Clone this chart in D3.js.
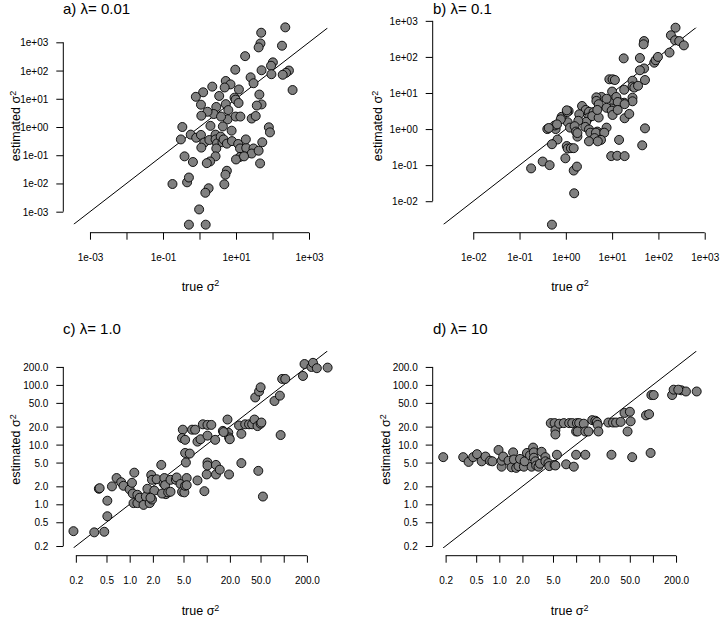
<!DOCTYPE html>
<html>
<head>
<meta charset="utf-8">
<script src="https://cdn.jsdelivr.net/npm/d3@7"></script>
<style>
body { margin: 0; background: #fff; }
svg { display: block; }
text { font-family: "Liberation Sans", Arial, Helvetica, sans-serif; fill: #000; }
</style>
</head>
<body>
<svg width="720" height="618"></svg>
<script>

// a) lambda = 0.01
var aTrue = [2.35,1.69,1.67,1.62,2.26,1.25,2.01,1.96,0.98,1.70,
    2.45,2.37,2.28,1.97,1.40,1.48,0.72,0.85,0.69,0.35,
    0.10,1.08,2.55,1.64,0.54,-0.10,0.96,0.99,1.70,1.57,
    1.07,0.04,0.72,0.46,0.79,0.39,0.77,0.22,0.05,0.59,
    0.99,1.12,1.43,1.54,0.30,0.64,0.88,-0.47,1.90,1.93,
    -0.51,-0.24,-0.09,0.04,0.13,0.05,0.27,0.44,0.44,0.48,
    0.58,0.63,0.66,0.75,0.89,0.46,0.44,0.29,0.20,-0.41,
    -0.18,1.06,1.11,1.28,1.27,1.48,1.43,1.11,1.00,1.22,
    1.62,1.72,1.66,0.75,0.71,0.68,-0.74,-0.34,-0.29,0.25,
    0.16,-0.01,-0.29,0.17];
var aEst = [3.53,3.34,2.96,2.82,2.88,2.51,2.29,2.17,2.03,2.01,
    2.00,1.92,1.85,1.87,1.76,1.55,1.63,1.51,1.40,1.43,
    1.23,1.33,1.31,1.15,1.10,1.07,1.04,0.97,0.80,0.76,
    0.85,0.79,0.81,0.71,0.60,0.46,0.27,0.54,0.40,0.37,
    0.37,0.37,0.30,0.39,0.04,0.02,-0.13,0.00,-0.01,-0.19,
    -0.44,-0.27,-0.38,-0.28,-0.55,-0.73,-0.46,-0.27,-0.44,-0.58,
    -0.34,-0.54,-0.44,-0.59,-0.50,-0.76,-1.04,-1.22,-1.28,-1.04,
    -1.24,-0.60,-0.76,-0.74,-0.44,-0.76,-0.94,-1.06,-1.15,-1.04,
    -0.84,-0.54,-1.29,-1.55,-1.69,-2.03,-2.02,-1.96,-1.79,-2.17,
    -2.33,-2.92,-3.46,-3.46];

// b) lambda = 0.1
var bTrue = [2.37,2.27,2.36,2.45,2.55,2.24,1.69,1.68,1.60,1.25,
    1.91,1.94,1.99,1.69,1.60,1.71,1.44,0.94,1.01,1.06,
    1.26,1.44,1.48,1.56,1.00,1.44,1.44,1.26,1.17,1.04,
    1.09,0.77,0.88,0.66,0.66,0.71,1.12,0.99,0.88,0.99,
    1.01,1.27,1.12,0.88,0.35,0.43,0.50,0.60,0.50,0.44,
    0.42,0.57,0.71,0.68,0.50,0.53,0.68,0.78,0.72,0.65,
    0.83,0.62,0.76,0.50,0.69,0.29,0.27,0.06,0.04,0.09,
    0.19,0.22,0.25,-0.09,0.03,-0.11,-0.22,-0.40,-0.24,-0.18,
    -0.30,0.02,0.04,0.11,0.17,0.25,-0.01,0.17,0.24,0.18,
    -0.50,-0.35,-0.75,-0.30,-0.19,0.98,1.11,1.27,1.15,1.65,
    1.71,1.37,1.27,-0.37,0.02];
var bEst = [2.81,2.60,2.46,2.44,2.32,2.12,2.44,2.35,1.97,1.96,
    1.84,1.91,2.00,1.68,1.63,1.36,1.34,1.38,1.38,1.36,
    1.09,1.18,1.15,1.20,1.04,0.87,0.77,0.73,0.74,0.76,
    0.89,0.89,0.84,0.88,0.78,0.69,0.75,0.57,0.59,0.51,
    0.39,0.30,0.53,0.04,0.64,0.53,0.48,0.47,0.32,0.20,
    0.06,0.36,0.32,0.53,-0.01,-0.10,-0.07,-0.12,-0.21,-0.10,
    -0.10,-0.25,-0.30,-0.34,-0.34,0.41,0.23,0.50,0.19,0.04,
    0.08,-0.07,-0.21,0.34,0.47,0.27,0.00,0.00,0.10,-0.29,
    -0.42,-0.47,-0.54,-0.53,-0.53,-0.11,-0.81,-1.15,-1.04,-1.78,
    -0.90,-1.00,-1.09,-2.65,0.13,-0.75,-0.74,-0.75,-0.30,-0.45,
    0.02,0.42,0.69,0.03,0.52];

// c) lambda = 1.0
var cTrue = [-0.73,-0.46,-0.33,-0.29,-0.29,-0.40,-0.23,-0.17,-0.11,-0.08,
    0.00,0.03,0.06,0.04,0.10,0.05,0.10,0.13,0.18,0.21,
    0.23,0.26,0.28,0.29,0.32,0.29,0.41,0.35,0.44,0.45,
    0.46,0.47,0.42,0.50,0.53,0.53,0.60,0.61,0.66,0.68,
    0.71,0.72,0.74,0.74,0.69,0.68,0.72,0.72,0.73,0.78,
    0.81,0.85,0.88,0.92,0.95,0.88,0.97,1.00,1.01,1.01,
    1.01,1.01,1.06,1.11,1.12,1.12,1.17,1.21,1.27,1.28,
    1.29,1.30,1.29,1.42,1.45,1.45,1.50,1.55,1.59,1.62,
    1.63,1.66,1.67,1.68,1.70,1.70,1.71,1.73,1.88,1.95,
    1.96,1.98,2.02,2.25,2.27,2.36,2.38,2.43,2.57,-0.39,
    0.27,1.22];
var cEst = [-0.45,-0.47,-0.46,-0.20,0.06,0.26,0.30,0.44,0.37,0.31,
    0.25,0.36,0.53,0.18,0.16,0.02,0.02,0.11,-0.01,0.13,
    0.26,0.02,0.49,0.08,0.23,0.41,0.66,0.42,0.35,0.44,
    0.32,0.17,0.18,0.20,0.21,0.41,0.41,0.45,0.34,0.21,
    0.20,0.31,0.44,0.32,1.25,1.11,1.08,0.86,0.70,0.85,
    1.25,1.25,1.05,1.09,1.34,0.40,0.22,0.50,0.70,0.65,
    1.33,1.15,1.33,1.08,0.66,0.50,0.58,1.23,1.42,1.20,
    1.12,1.09,0.50,1.32,1.18,0.69,1.34,1.34,1.34,1.42,
    1.79,1.31,0.56,1.89,1.96,1.35,1.37,0.13,1.73,1.82,
    1.16,2.10,2.10,2.15,2.35,2.30,2.37,2.28,2.29,0.27,
    0.11,1.21];

// d) lambda = 10
var dTrue = [-0.73,-0.47,-0.40,-0.34,-0.29,-0.23,-0.18,-0.12,-0.09,-0.01,
    0.03,0.03,0.05,0.12,0.16,0.18,0.19,0.22,0.25,0.27,
    0.32,0.33,0.36,0.40,0.42,0.44,0.45,0.45,0.47,0.48,
    0.51,0.55,0.53,0.60,0.60,0.64,0.65,0.72,0.75,0.73,
    0.67,0.72,0.73,0.73,0.78,0.84,0.91,0.95,1.01,1.04,
    1.10,1.00,1.02,1.12,1.16,0.87,0.97,1.00,1.12,1.21,
    1.25,1.27,1.28,1.29,1.42,1.46,1.48,1.52,1.58,1.63,
    1.70,1.71,1.67,1.73,1.91,1.95,1.97,1.98,2.01,2.25,
    2.27,2.37,2.43,2.57,2.33];
var dEst = [0.79,0.79,0.71,0.79,0.84,0.72,0.80,0.73,0.72,0.91,
    0.63,0.73,0.80,0.73,0.62,0.87,0.75,0.61,0.64,0.76,
    0.63,0.72,0.86,0.82,0.63,0.95,0.87,0.78,0.72,0.65,
    0.63,0.88,0.68,0.79,0.72,0.69,0.64,0.66,0.83,0.65,
    1.36,1.36,1.24,1.17,1.35,1.36,1.36,1.36,1.36,1.36,
    1.35,1.22,1.22,1.22,1.22,0.67,0.63,0.83,0.83,1.41,
    1.40,1.38,1.33,1.22,1.37,0.83,1.37,1.37,1.38,1.53,
    1.55,1.39,1.22,0.79,1.49,1.51,0.86,1.83,1.83,1.83,
    1.92,1.91,1.89,1.89,1.92];

// tick values and labels
var ticksA = [1e-3, 1e-2, 1e-1, 1, 10, 100, 1000];
var labelsAx = ["1e-03", "", "1e-01", "", "1e+01", "", "1e+03"];
var labelsAy = ["1e-03", "1e-02", "1e-01", "1e+00", "1e+01", "1e+02", "1e+03"];
var ticksB = [1e-2, 1e-1, 1, 10, 100, 1000];
var labelsB = ["1e-02", "1e-01", "1e+00", "1e+01", "1e+02", "1e+03"];
var ticksC = [0.2, 0.5, 1, 2, 5, 10, 20, 50, 100, 200];
var labelsCx = ["0.2", "0.5", "1.0", "2.0", "5.0", "", "20.0", "50.0", "", "200.0"];
var labelsCy = ["0.2", "0.5", "1.0", "2.0", "5.0", "10.0", "20.0", "50.0", "100.0", "200.0"];

var panels = [
    { id: "a", title: "a) \u03bb= 0.01", tx: aTrue, ty: aEst,
      xdom: [-3.457, 3.512], ydom: [-3.447, 3.518],
      left: 73.3, right: 327.7, top: 27.7, bottom: 224.3,
      xAxisY: 232.7, yAxisX: 63.3, titleX: 63, titleY: 14,
      xt: ticksA, xl: labelsAx, yt: ticksA, yl: labelsAy,
      xlabY: 290.5, ylabX: 20 },
    { id: "b", title: "b) \u03bb= 0.1", tx: bTrue, ty: bEst,
      xdom: [-2.66, 2.84], ydom: [-2.64, 2.81],
      left: 442.7, right: 697.3, top: 27.7, bottom: 224.3,
      xAxisY: 232.7, yAxisX: 432.7, titleX: 433, titleY: 14,
      xt: ticksB, xl: labelsB, yt: ticksB, yl: labelsB,
      xlabY: 290.5, ylabX: 382 },
    { id: "c", title: "c) \u03bb= 1.0", tx: cTrue, ty: cEst,
      xdom: [-0.732, 2.571], ydom: [-0.732, 2.568],
      left: 73.3, right: 327.7, top: 351, bottom: 548,
      xAxisY: 555.7, yAxisX: 63.3, titleX: 63, titleY: 334,
      xt: ticksC, xl: labelsCx, yt: ticksC, yl: labelsCy,
      xlabY: 615, ylabX: 20 },
    { id: "d", title: "d) \u03bb= 10", tx: dTrue, ty: dEst,
      xdom: [-0.737, 2.57], ydom: [-0.732, 2.568],
      left: 442.7, right: 696.7, top: 351, bottom: 548,
      xAxisY: 555.7, yAxisX: 432.7, titleX: 433, titleY: 334,
      xt: ticksC, xl: labelsCx, yt: ticksC, yl: labelsCy,
      xlabY: 615, ylabX: 390 }
];

var svg = d3.select("svg");

function drawPanel(p) {
    var x = d3.scaleLog()
        .domain([Math.pow(10, p.xdom[0]), Math.pow(10, p.xdom[1])])
        .range([p.left, p.right]);
    var y = d3.scaleLog()
        .domain([Math.pow(10, p.ydom[0]), Math.pow(10, p.ydom[1])])
        .range([p.bottom, p.top]);

    var g = svg.append("g").attr("class", "panel-" + p.id);

    g.append("clipPath").attr("id", "clip-" + p.id)
        .append("rect")
        .attr("x", p.left).attr("y", p.top)
        .attr("width", p.right - p.left).attr("height", p.bottom - p.top);

    // x axis, R style: line only between first and last tick
    var xa = g.append("g")
        .attr("transform", "translate(0," + p.xAxisY + ")")
        .call(d3.axisBottom(x).tickValues(p.xt)
            .tickFormat(function (d, i) { return p.xl[i]; })
            .tickSize(7).tickSizeOuter(0));
    xa.select(".domain").remove();
    xa.append("line")
        .attr("x1", x(p.xt[0])).attr("x2", x(p.xt[p.xt.length - 1]))
        .attr("stroke", "#000");
    xa.selectAll(".tick line").attr("stroke", "#000");
    xa.selectAll(".tick text")
        .attr("y", 25).attr("dy", "0.35em")
        .style("font-size", "10px");

    var ya = g.append("g")
        .attr("transform", "translate(" + p.yAxisX + ",0)")
        .call(d3.axisLeft(y).tickValues(p.yt)
            .tickFormat(function (d, i) { return p.yl[i]; })
            .tickSize(7).tickSizeOuter(0));
    ya.select(".domain").remove();
    ya.append("line")
        .attr("y1", y(p.yt[0])).attr("y2", y(p.yt[p.yt.length - 1]))
        .attr("stroke", "#000");
    ya.selectAll(".tick line").attr("stroke", "#000");
    ya.selectAll(".tick text")
        .attr("x", -15).attr("dy", "0.35em")
        .style("font-size", "10px");

    // 1:1 line
    g.append("line")
        .attr("clip-path", "url(#clip-" + p.id + ")")
        .attr("x1", x(Math.pow(10, p.xdom[0]))).attr("y1", y(Math.pow(10, p.xdom[0])))
        .attr("x2", x(Math.pow(10, p.xdom[1]))).attr("y2", y(Math.pow(10, p.xdom[1])))
        .attr("stroke", "#000").attr("stroke-width", 1);

    g.selectAll("circle")
        .data(p.tx.map(function (v, i) { return [Math.pow(10, v), Math.pow(10, p.ty[i])]; }))
        .enter().append("circle")
        .attr("cx", function (d) { return x(d[0]); })
        .attr("cy", function (d) { return y(d[1]); })
        .attr("r", 4.5)
        .attr("fill", "#808080")
        .attr("stroke", "#000")
        .attr("stroke-width", 0.9);

    g.append("text")
        .attr("x", p.titleX).attr("y", p.titleY)
        .style("font-size", "15px")
        .text(p.title);

    var xl = g.append("text")
        .attr("x", (p.left + p.right) / 2).attr("y", p.xlabY)
        .attr("text-anchor", "middle")
        .style("font-size", "12.5px");
    xl.append("tspan").text("true \u03c3");
    xl.append("tspan").attr("dy", "-0.45em").style("font-size", "9px").text("2");

    var yl = g.append("text")
        .attr("transform", "translate(" + p.ylabX + "," + (p.top + p.bottom) / 2 + ") rotate(-90)")
        .attr("text-anchor", "middle")
        .style("font-size", "12.5px");
    yl.append("tspan").text("estimated \u03c3");
    yl.append("tspan").attr("dy", "-0.45em").style("font-size", "9px").text("2");
}

panels.forEach(drawPanel);
</script>
</body>
</html>
